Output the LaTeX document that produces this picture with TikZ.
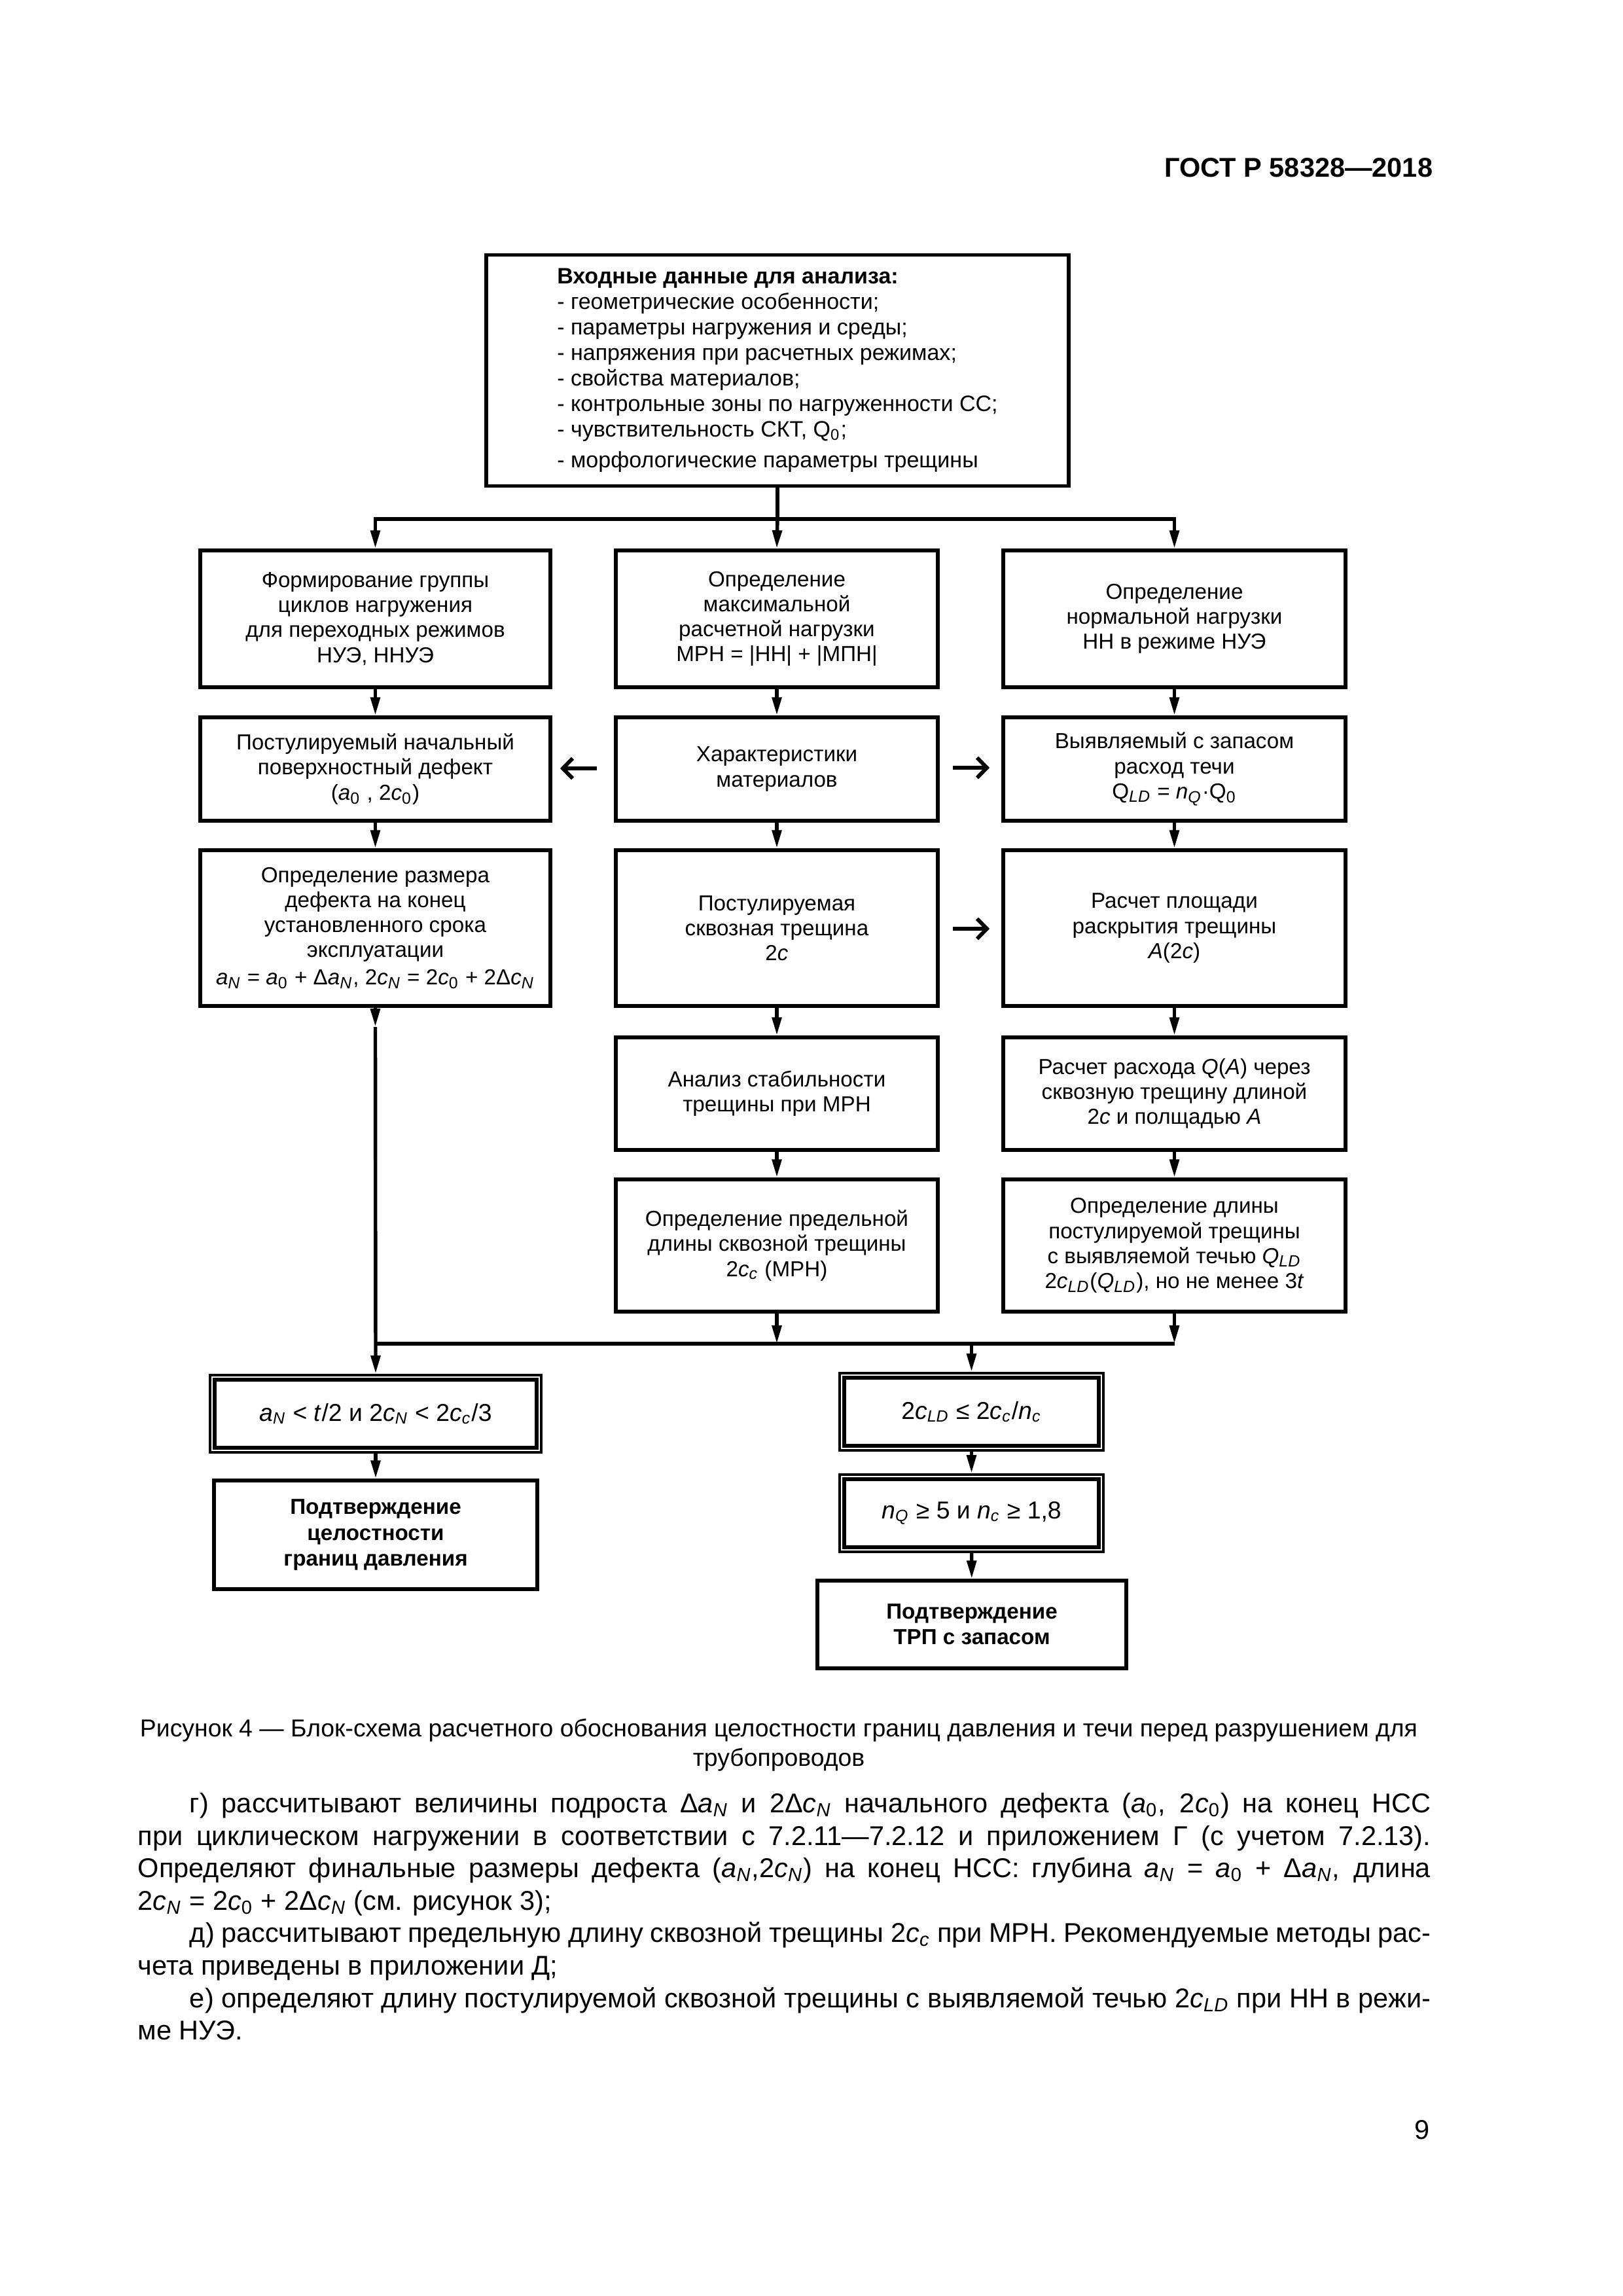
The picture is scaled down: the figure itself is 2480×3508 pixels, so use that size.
\documentclass[tikz,border=0pt]{standalone}
\usepackage{fontspec}
\setmainfont{Liberation Sans}
\usetikzlibrary{arrows.meta}
\newcommand\pxu{0.084677mm}
\newcommand\vi[1]{\textit{#1}}
\newcommand\vs[1]{\textsubscript{\textit{#1}}}
\newcommand\ns[1]{\textsubscript{#1}}
\begin{document}
\begin{tikzpicture}[x=0.084677mm, y=-0.084677mm,
  sz/.style 2 args={minimum width=#1*\pxu, minimum height=#2*\pxu},
  box/.style={draw, line width=1.4pt, align=center, inner sep=2pt, font=\fontsize{8}{9.2}\selectfont},
  cond/.style={draw, line width=1pt, align=center, inner sep=2pt, font=\fontsize{9}{10.8}\selectfont},
  inner/.style={line width=1.4pt},
  arr/.style={line width=1.3pt, -{Triangle[length=6.7pt,width=3.4pt]}},
  ln/.style={line width=1.3pt},
  side/.style={line width=1.4pt, -{Straight Barb[length=3.6pt,width=7.4pt]}},
  txt/.style={inner sep=0pt, font=\fontsize{10}{11.9}\selectfont}
]
\fill[white] (0,0) rectangle (2480,3508);
\useasboundingbox (0,0) rectangle (2480,3508);

% header
\node[inner sep=0pt, anchor=base east, font=\bfseries\fontsize{10}{12}\selectfont] (hdr) at (2190,270) {ГОСТ Р 58328—2018};

% top box
\node[box, align=left, sz={890}{353}, font=\fontsize{8.2}{9.4}\selectfont] (top) at (1188,566) {\textbf{Входные данные для анализа:}\\- геометрические особенности;\\- параметры нагружения и среды;\\- напряжения при расчетных режимах;\\- свойства материалов;\\- контрольные зоны по нагруженности СС;\\- чувствительность СКТ, Q\ns{0};\\[2pt]- морфологические параметры трещины};

% row 1
\node[box, sz={535}{209}] (L1) at (573.5,945.5) {Формирование группы\\циклов нагружения\\для переходных режимов\\НУЭ, ННУЭ};
\node[box, sz={492}{209}] (C1) at (1187,945.5) {Определение\\максимальной\\расчетной нагрузки\\МРН = |НН| + |МПН|};
\node[box, sz={523}{209}] (R1) at (1794.5,945.5) {Определение\\нормальной нагрузки\\НН в режиме НУЭ};

% row 2
\node[box, sz={535}{158}] (L2) at (573.5,1175) {Постулируемый начальный\\поверхностный дефект\\(\vi{a}\ns{0} , 2\vi{c}\ns{0})};
\node[box, sz={492}{158}] (C2) at (1187,1175) {Характеристики\\материалов};
\node[box, sz={523}{158}] (R2) at (1794.5,1175) {Выявляемый с запасом\\расход течи\\Q\vs{LD} = \vi{n}\vs{Q}·Q\ns{0}};

% row 3
\node[box, sz={535}{238}] (L3) at (573.5,1418) {Определение размера\\дефекта на конец\\установленного срока\\эксплуатации\\[1pt]\vi{a}\vs{N} = \vi{a}\ns{0} + Δ\vi{a}\vs{N}, 2\vi{c}\vs{N} = 2\vi{c}\ns{0} + 2Δ\vi{c}\vs{N}};
\node[box, sz={492}{238}] (C3) at (1187,1418) {Постулируемая\\сквозная трещина\\2\vi{c}};
\node[box, sz={523}{238}] (R3) at (1794.5,1418) {Расчет площади\\раскрытия трещины\\\vi{A}(2\vi{c})};

% row 4
\node[box, sz={492}{172}] (C4) at (1187,1671) {Анализ стабильности\\трещины при МРН};
\node[box, sz={523}{172}] (R4) at (1794.5,1671) {Расчет расхода \vi{Q}(\vi{A}) через\\сквозную трещину длиной\\2\vi{c} и полщадью \vi{A}};

% row 5
\node[box, sz={492}{202}] (C5) at (1187,1903) {Определение предельной\\длины сквозной трещины\\2\vi{c}\vs{c} (МРН)};
\node[box, sz={523}{202}] (R5) at (1794.5,1903) {Определение длины\\постулируемой трещины\\с выявляемой течью \vi{Q}\vs{LD}\\2\vi{c}\vs{LD}(\vi{Q}\vs{LD}), но не менее 3\vi{t}};

% condition boxes
\node[cond, sz={506}{118}] (CL) at (574,2160) {\vi{a}\vs{N} < \vi{t}/2 и 2\vi{c}\vs{N} < 2\vi{c}\vs{c}/3};
\node[cond, sz={403}{118}] (CR1) at (1484.5,2157) {2\vi{c}\vs{LD} ≤ 2\vi{c}\vs{c}/\vi{n}\vs{c}};
\node[cond, sz={403}{118}] (CR2) at (1484.5,2312) {\vi{n}\vs{Q} ≥ 5 и \vi{n}\vs{c} ≥ 1,8};
\foreach \n in {CL,CR1,CR2}
  \draw[inner] ([xshift=2.2pt,yshift=2.2pt]\n.south west) rectangle ([xshift=-2.2pt,yshift=-2.2pt]\n.north east);

% final boxes
\node[box, sz={494}{166}, font=\bfseries\fontsize{8}{9.4}\selectfont] (BL) at (574,2345) {Подтверждение\\целостности\\границ давления};
\node[box, sz={472}{134}, font=\bfseries\fontsize{8}{9.4}\selectfont] (BR) at (1485,2482) {Подтверждение\\ТРП с запасом};

% top fan-out
\coordinate (jt) at (1188,793);
\draw[ln] (top.south) -- (jt);
\draw[arr] (jt) -| (L1.north);
\draw[arr] (jt) -| (R1.north);
\draw[arr] (jt) -- (C1.north);

% column arrows
\draw[arr] (L1) -- (L2);
\draw[arr] (L2) -- (L3);
\draw[arr] (C1) -- (C2);
\draw[arr] (C2) -- (C3);
\draw[arr] (C3) -- (C4);
\draw[arr] (C4) -- (C5);
\draw[arr] (R1) -- (R2);
\draw[arr] (R2) -- (R3);
\draw[arr] (R3) -- (R4);
\draw[arr] (R4) -- (R5);

% side arrows
\coordinate (sa1) at (912,1174); \coordinate (sb1) at (856,1174);
\coordinate (sa2) at (1456,1173); \coordinate (sb2) at (1512,1173);
\coordinate (sa3) at (1456,1419); \coordinate (sb3) at (1512,1419);
\draw[side] (sa1) -- (sb1);
\draw[side] (sa2) -- (sb2);
\draw[side] (sa3) -- (sb3);

% join
\coordinate (la) at (573.5,1569);
\coordinate (jl) at (573.5,2053);
\coordinate (jr) at (1794.5,2053);
\coordinate (jm) at (1484.5,2053);
\draw[arr] (L3.south) -- (la);
\draw[arr] (la) -- (CL.north);
\draw[ln] (jl) -- (jr);
\draw[arr] (C5.south) -- (C5.south |- jl);
\draw[arr] (R5.south) -- (jr);
\draw[arr] (jm) -- (CR1.north);
\draw[arr] (CR1) -- (CR2);
\draw[arr] (CR2) -- (BR);
\draw[arr] (CL) -- (BL);

% caption
\node[inner sep=0pt, anchor=base, font=\fontsize{9}{11}\selectfont] (cap1) at (1190,2653) {Рисунок 4 — Блок-схема расчетного обоснования целостности границ давления и течи перед разрушением для};
\node[inner sep=0pt, anchor=base, font=\fontsize{9}{11}\selectfont] (cap2) at (1190,2698) {трубопроводов};

% paragraph
\node[txt, anchor=base west] (p1) at (210,2769) {\makebox[167.24mm][s]{\hspace*{6.7mm}г) рассчитывают величины подроста Δ\vi{a}\vs{N} и 2Δ\vi{c}\vs{N} начального дефекта (\vi{a}\ns{0}, 2\vi{c}\ns{0}) на конец НСС}};
\node[txt, anchor=base west] (p2) at (210,2819) {\makebox[167.24mm][s]{при циклическом нагружении в соответствии с 7.2.11—7.2.12 и приложением Г (с учетом 7.2.13).}};
\node[txt, anchor=base west] (p3) at (210,2868) {\makebox[167.24mm][s]{Определяют финальные размеры дефекта (\vi{a}\vs{N},2\vi{c}\vs{N}) на конец НСС: глубина \vi{a}\vs{N} = \vi{a}\ns{0} + Δ\vi{a}\vs{N}, длина}};
\node[txt, anchor=base west] (p4) at (210,2918) {2\vi{c}\vs{N} = 2\vi{c}\ns{0} + 2Δ\vi{c}\vs{N} (см. рисунок 3);};
\node[txt, anchor=base west] (p5) at (210,2967) {\makebox[167.24mm][s]{\hspace*{6.7mm}д) рассчитывают предельную длину сквозной трещины 2\vi{c}\vs{c} при МРН. Рекомендуемые методы рас-}};
\node[txt, anchor=base west] (p6) at (210,3017) {чета приведены в приложении Д;};
\node[txt, anchor=base west] (p7) at (210,3067) {\makebox[167.24mm][s]{\hspace*{6.7mm}е) определяют длину постулируемой сквозной трещины с выявляемой течью 2\vi{c}\vs{LD} при НН в режи-}};
\node[txt, anchor=base west] (p8) at (210,3116) {ме НУЭ.};

% page number
\node[txt, anchor=base east] (pg) at (2185,3268) {9};
\end{tikzpicture}
\end{document}
